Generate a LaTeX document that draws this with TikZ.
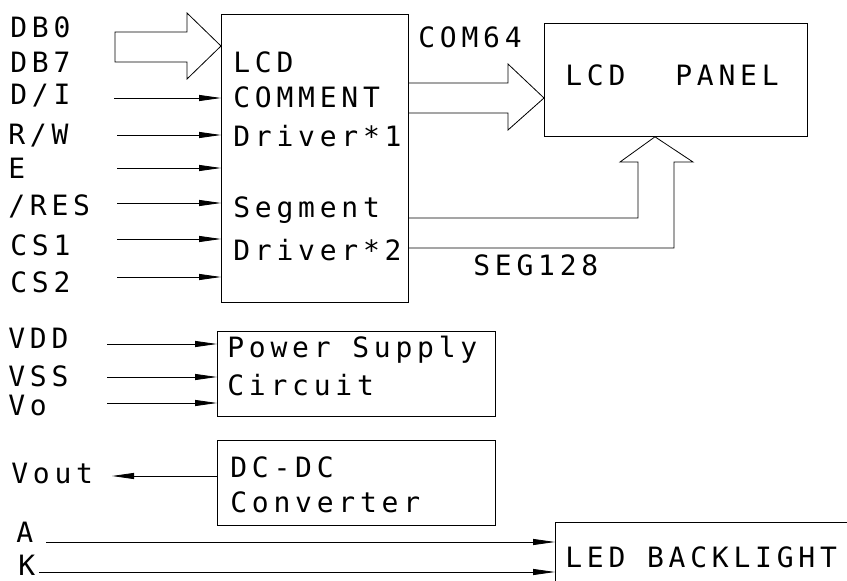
\documentclass[tikz,border=0pt]{standalone}
\usepackage{fontspec}
\setmonofont[LetterSpace=17]{DejaVu Sans Mono}
\usetikzlibrary{positioning, arrows.meta}

\begin{document}
\begin{tikzpicture}[x=1pt, y=-1pt, line width=0.8pt,
    blk/.style={draw, rectangle, inner sep=0pt, anchor=north west},
    txt/.style={anchor=west, inner sep=0pt, font=\ttfamily\fontsize{28}{30}\selectfont},
    sig/.style={-{Triangle[length=22pt, width=6pt]}}]
    \useasboundingbox (0,0) rectangle (847,581);
    \clip (0,0) rectangle (847,581);

    % blocks
    \node[blk, minimum width=187pt, minimum height=288pt] (drv) at (221,14) {};
    \node[blk, minimum width=263pt, minimum height=113pt] (panel) at (544,23) {};
    \node[blk, minimum width=278pt, minimum height=85pt] (psu) at (217,331) {};
    \node[blk, minimum width=278pt, minimum height=85pt] (dcdc) at (217,440) {};
    \node[blk, minimum width=320pt, minimum height=100pt] (led) at (555,522) {};

    % texts in blocks
    \node[txt] (t_lcd) at (233,62) {LCD};
    \node[txt] (t_com) at (233,97) {COMMENT};
    \node[txt] (t_drv1) at (233,136) {Driver*1};
    \node[txt] (t_seg) at (233,210) {Segment};
    \node[txt] (t_drv2) at (233,250) {Driver*2};
    \node[txt] (t_pl) at (565,75) {LCD};
    \node[txt] (t_pp) at (675,75) {PANEL};
    \node[txt] (t_ps) at (227,350) {Power Supply};
    \node[txt] (t_ci) at (227,385) {Circuit};
    \node[txt] (t_dc) at (230,467) {DC-DC};
    \node[txt] (t_cv) at (230,502) {Converter};
    \node[txt] (t_led) at (565,557) {LED BACKLIGHT};
    \node[txt] (t_com64) at (418,37) {COM64};
    \node[txt] (t_seg128) at (473,265) {SEG128};

    % signal names
    \node[txt] (l_db0) at (10,27) {DB0};
    \node[txt] (l_db7) at (10,62) {DB7};
    \node[txt] (l_di) at (10,96) {D/I};
    \node[txt] (l_rw) at (8,136) {R/W};
    \node[txt] (l_e) at (8,168) {E};
    \node[txt] (l_res) at (8,206) {/RES};
    \node[txt] (l_cs1) at (10,245) {CS1};
    \node[txt] (l_cs2) at (10,282) {CS2};
    \node[txt] (l_vdd) at (8,338) {VDD};
    \node[txt] (l_vss) at (8,376) {VSS};
    \node[txt] (l_vo) at (8,405) {Vo};
    \node[txt] (l_vout) at (11,473) {Vout};
    \node[txt] (l_a) at (16,532) {A};
    \node[txt] (l_k) at (18,565) {K};

    % bus arrows
    \draw (115,32) -- (187,32) -- (187,13) -- (drv.west |- 0,46) -- (187,79) -- (187,62) -- (115,62) -- cycle;
    \draw (408,83) -- (508,83) -- (508,64) -- (panel.west |- 0,98) -- (508,130) -- (508,113) -- (408,113);
    \draw (408,218) -- (638,218) -- (638,162) -- (620,162) -- (panel.south -| 655,0)
        -- (693,162) -- (674,162) -- (674,248) -- (408,248);

    % control lines
    \foreach \n/\x/\y in {di/114/98, rw/117/135, e/117/168, res/117/203, cs1/117/239, cs2/117/277} {
        \coordinate (s_\n) at (\x,\y);
        \draw[sig] (s_\n) -- (s_\n -| drv.west);
    }
    \foreach \n/\y in {vdd/344, vss/377, vo/403} {
        \coordinate (s_\n) at (107,\y);
        \draw[sig] (s_\n) -- (s_\n -| psu.west);
    }
    \coordinate (s_vout) at (112,476);
    \draw[sig] (s_vout -| dcdc.west) -- (s_vout);
    \coordinate (s_a) at (46,542);
    \coordinate (s_k) at (39,572);
    \draw[sig] (s_a) -- (s_a -| led.west);
    \draw[sig] (s_k) -- (s_k -| led.west);

\end{tikzpicture}
\end{document}
